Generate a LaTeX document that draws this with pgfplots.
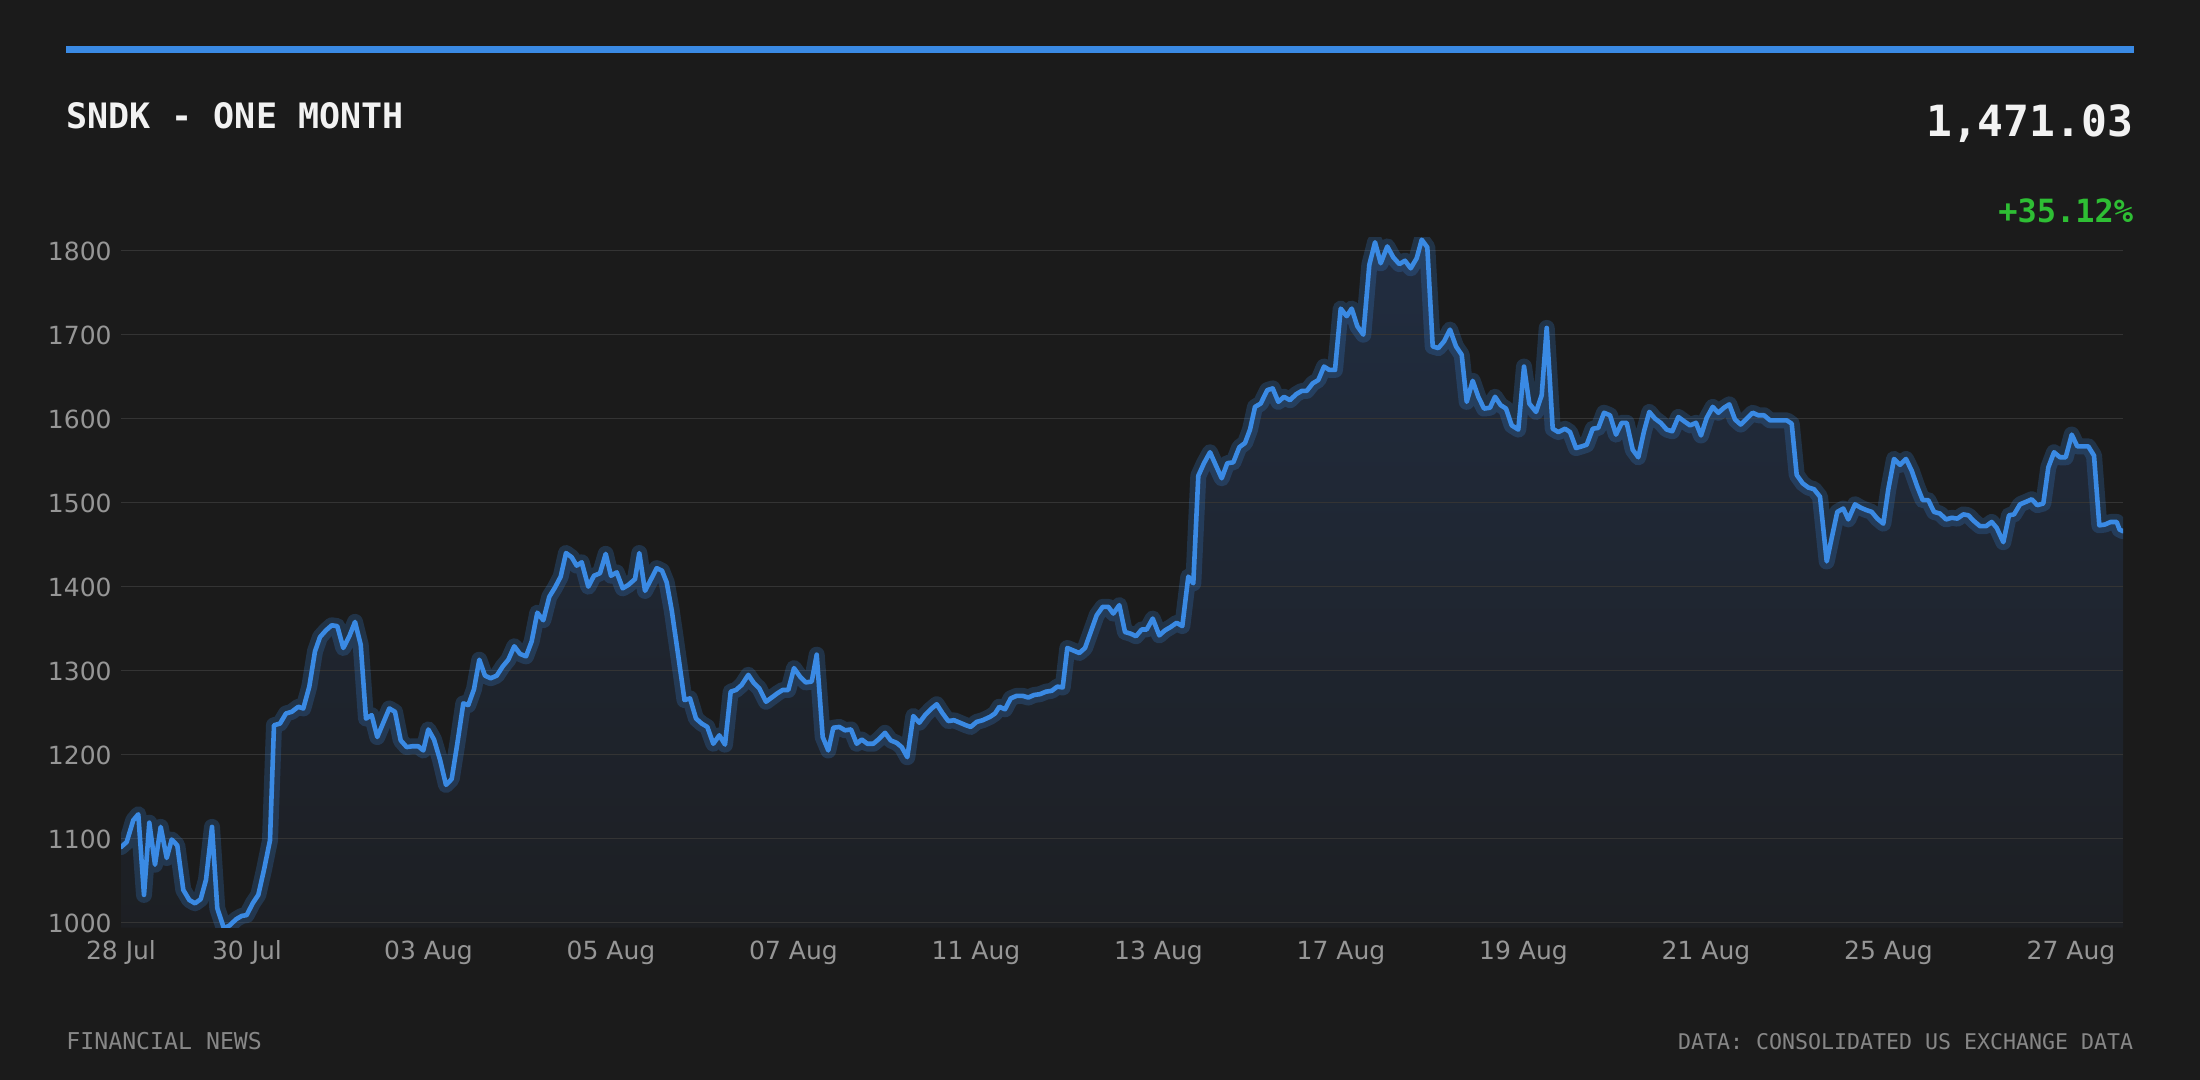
\documentclass[border=0pt]{standalone}
\usepackage{fontspec}
\setmainfont{DejaVu Sans}
\newfontfamily\monofont{DejaVu Sans Mono}
\usepackage{pgfplots}
\usepackage{pgfplotstable}
\pgfplotsset{compat=1.18}

\definecolor{bgcol}{RGB}{27,27,27}
\definecolor{accent}{RGB}{58,138,228}
\definecolor{gridcol}{RGB}{52,52,52}
\definecolor{ticktext}{RGB}{150,150,150}
\definecolor{foottext}{RGB}{135,135,135}
\definecolor{headtext}{RGB}{242,242,242}
\definecolor{upgreen}{RGB}{46,190,52}
\definecolor{areatop}{RGB}{33,45,64}
\definecolor{areabot}{RGB}{29,31,35}

% x = position along the time axis, y = price
\pgfplotstableread{
x y
121.0 1090
126.7 1096
133.3 1122
138.3 1129
144.0 1033
149.3 1119
155.0 1069
160.7 1114
166.7 1077
171.7 1099
177.3 1092
183.3 1039
189.3 1027
195.0 1023
200.7 1028
206.0 1051
212.0 1114
217.3 1017
224.0 993
230.0 997
236.0 1004
241.7 1008
246.7 1009
252.7 1023
258.3 1033
264.0 1063
270.0 1098
274.0 1235
280.0 1237
286.0 1249
291.7 1251
298.3 1257
303.3 1255
309.3 1281
315.0 1323
320.0 1340
326.0 1348
331.7 1354
337.3 1353
343.3 1327
349.3 1341
355.0 1358
360.7 1331
366.0 1243
371.7 1247
377.3 1221
383.3 1238
389.3 1255
395.0 1251
400.7 1217
406.7 1209
412.7 1210
418.3 1210
423.3 1205
428.3 1230
434.0 1218
440.0 1194
446.0 1164
451.7 1171
457.3 1213
463.3 1261
468.3 1259
474.0 1278
479.3 1313
485.0 1294
490.7 1291
496.7 1294
502.7 1305
508.3 1313
514.3 1329
520.0 1320
526.0 1317
531.7 1335
537.3 1369
543.3 1360
549.3 1388
555.0 1399
560.7 1412
566.0 1440
571.7 1435
576.7 1425
581.7 1429
588.3 1400
594.0 1413
600.0 1416
605.7 1439
611.0 1413
616.7 1417
622.7 1398
628.3 1402
635.0 1409
639.3 1440
645.0 1395
650.7 1408
656.7 1422
662.0 1419
666.7 1405
671.7 1372
678.0 1320
684.5 1265
690.0 1267
696.0 1243
701.7 1237
707.3 1233
713.3 1213
719.3 1223
725.0 1212
730.7 1275
736.0 1277
741.7 1283
748.3 1295
754.0 1285
759.3 1279
766.0 1263
771.7 1268
777.3 1273
782.7 1277
788.3 1277
794.0 1303
800.0 1293
805.7 1286
811.7 1287
816.7 1319
822.7 1221
828.3 1205
833.3 1232
839.3 1233
845.0 1229
851.0 1230
856.7 1213
861.7 1218
867.3 1213
873.3 1213
879.3 1219
885.0 1226
890.7 1217
896.7 1214
901.7 1209
907.3 1197
913.3 1246
919.3 1238
925.0 1247
930.7 1254
936.7 1260
942.7 1249
948.3 1240
954.0 1241
960.0 1238
966.0 1235
970.7 1233
976.7 1239
982.7 1241
990.0 1245
995.0 1249
999.3 1257
1005.0 1254
1010.7 1267
1016.7 1270
1022.7 1270
1028.3 1268
1034.0 1271
1040.0 1272
1046.0 1275
1051.7 1276
1057.3 1281
1062.7 1280
1067.3 1327
1073.3 1324
1079.3 1321
1085.0 1327
1090.7 1346
1096.7 1366
1102.7 1376
1108.3 1376
1113.3 1368
1119.3 1378
1125.0 1346
1130.7 1344
1136.0 1341
1141.7 1349
1146.7 1349
1152.7 1362
1159.3 1342
1165.0 1348
1170.7 1352
1176.7 1357
1182.3 1353
1188.3 1412
1193.3 1404
1198.3 1532
1204.0 1547
1210.0 1560
1216.0 1544
1221.7 1529
1227.3 1547
1233.3 1548
1239.3 1566
1245.0 1571
1250.0 1587
1255.0 1614
1260.7 1618
1267.3 1634
1272.7 1636
1278.3 1620
1284.0 1626
1290.0 1622
1296.0 1629
1301.7 1633
1306.7 1633
1312.7 1642
1318.3 1646
1324.0 1662
1329.3 1658
1335.0 1658
1340.7 1731
1346.7 1722
1351.7 1731
1357.3 1710
1363.3 1700
1369.3 1783
1375.0 1810
1380.7 1785
1387.3 1805
1393.3 1792
1399.3 1784
1405.0 1788
1410.7 1779
1416.7 1791
1421.7 1813
1427.3 1804
1432.7 1686
1438.3 1684
1444.0 1692
1450.0 1706
1456.0 1686
1461.7 1676
1466.7 1620
1472.7 1645
1478.3 1626
1484.0 1612
1490.0 1613
1495.0 1626
1500.7 1616
1506.0 1612
1511.7 1592
1518.3 1587
1524.0 1662
1529.3 1618
1536.0 1608
1541.7 1628
1546.7 1708
1552.7 1588
1558.3 1584
1565.0 1588
1570.0 1584
1576.0 1565
1581.7 1567
1586.7 1569
1592.7 1588
1598.3 1589
1604.0 1607
1610.0 1604
1616.0 1581
1621.7 1595
1626.7 1595
1632.7 1563
1638.3 1554
1644.0 1585
1649.3 1608
1655.0 1600
1660.7 1595
1666.7 1587
1672.3 1585
1678.3 1602
1684.0 1597
1690.0 1592
1696.0 1595
1701.0 1580
1706.7 1601
1712.7 1614
1718.3 1607
1724.0 1613
1729.3 1617
1735.0 1599
1740.7 1593
1746.7 1600
1752.7 1607
1758.3 1604
1764.0 1604
1770.0 1598
1776.0 1598
1781.7 1598
1786.7 1598
1791.7 1594
1796.7 1533
1802.7 1523
1808.3 1518
1814.0 1516
1820.0 1507
1826.7 1430
1831.7 1458
1837.3 1489
1843.3 1493
1848.3 1480
1855.0 1498
1860.7 1494
1866.7 1491
1871.7 1489
1877.3 1481
1883.3 1475
1888.3 1516
1894.0 1552
1900.0 1545
1906.0 1552
1911.7 1538
1917.3 1519
1922.7 1503
1928.3 1503
1934.0 1489
1940.0 1487
1946.0 1480
1951.7 1482
1957.3 1481
1963.3 1486
1968.3 1485
1974.0 1478
1980.0 1472
1986.0 1472
1991.7 1477
1996.7 1470
2003.3 1453
2009.0 1485
2014.0 1486
2020.0 1498
2026.0 1501
2031.7 1504
2037.3 1497
2043.3 1499
2048.3 1542
2054.0 1560
2060.0 1554
2065.7 1554
2071.7 1581
2077.3 1567
2083.3 1567
2088.3 1567
2094.0 1556
2099.3 1473
2105.0 1474
2110.7 1477
2116.7 1477
2119.5 1468
2123.0 1466
}\pricedata

\begin{document}
\begin{tikzpicture}
\fill[bgcol] (0,0) rectangle (1100pt,540pt);

% header
\fill[accent] (33pt,513.5pt) rectangle (1067pt,517pt);
\node[anchor=base west, inner sep=0pt, text=headtext,
  font={\monofont\bfseries\fontsize{17.5pt}{21pt}\selectfont}]
  at (33pt,475.5pt) {SNDK - ONE MONTH};
\node[anchor=base east, inner sep=0pt, text=headtext,
  font={\monofont\bfseries\fontsize{21.5pt}{26pt}\selectfont}]
  at (1066.8pt,471.5pt) {1,471.03};
\node[anchor=base east, inner sep=0pt, text=upgreen,
  font={\monofont\bfseries\fontsize{16pt}{19pt}\selectfont}]
  at (1066.8pt,428.5pt) {+35.12\%};

% footer
\node[anchor=base west, inner sep=0pt, text=foottext,
  font={\monofont\fontsize{11.6pt}{14pt}\selectfont}]
  at (33pt,15pt) {FINANCIAL NEWS};
\node[anchor=base east, inner sep=0pt, text=foottext,
  font={\monofont\fontsize{10.8pt}{13pt}\selectfont}]
  at (1066.8pt,15pt) {DATA: CONSOLIDATED US EXCHANGE DATA};

\begin{axis}[
    at={(60.5pt,76.15pt)}, anchor=south west,
    scale only axis, width=1001pt, height=345.24pt,
    xmin=121, xmax=2123, ymin=994, ymax=1816,
    axis line style={draw=none},
    major tick length=0pt,
    ytick={1000,1100,1200,1300,1400,1500,1600,1700,1800},
    xtick={121,247,428.5,611,793.5,976,1158.5,1341,1523.5,1706,1888.5,2071},
    xticklabels={28 Jul,30 Jul,03 Aug,05 Aug,07 Aug,11 Aug,13 Aug,17 Aug,19 Aug,21 Aug,25 Aug,27 Aug},
    /pgf/number format/assume math mode=true,
    /pgf/number format/set thousands separator={},
    tick label style={font=\fontsize{12.5pt}{15pt}\selectfont, text=ticktext},
    yticklabel style={anchor=east, inner sep=0pt, xshift=-4.5pt, yshift=-0.6pt},
    xticklabel style={anchor=north, inner sep=0pt, yshift=-6.4pt},
]
% shaded area under the price line
\addplot[draw=none, top color=areatop, bottom color=areabot, forget plot]
  table[x=x, y=y] {\pricedata} -- (axis cs:2123,994) -- (axis cs:121,994) -- cycle;
% horizontal grid, drawn over the area
\pgfplotsinvokeforeach{1000,1100,...,1800}{
  \addplot[gridcol, line width=0.8pt, forget plot] coordinates {(121,#1) (2123,#1)};
}
% glow under the line
\addplot[accent, opacity=0.22, line width=8pt, line join=round, line cap=round]
  table[x=x, y=y] {\pricedata};
\addplot[accent, line width=2.3pt, line join=round, line cap=round]
  table[x=x, y=y] {\pricedata};
\end{axis}
\end{tikzpicture}
\end{document}
